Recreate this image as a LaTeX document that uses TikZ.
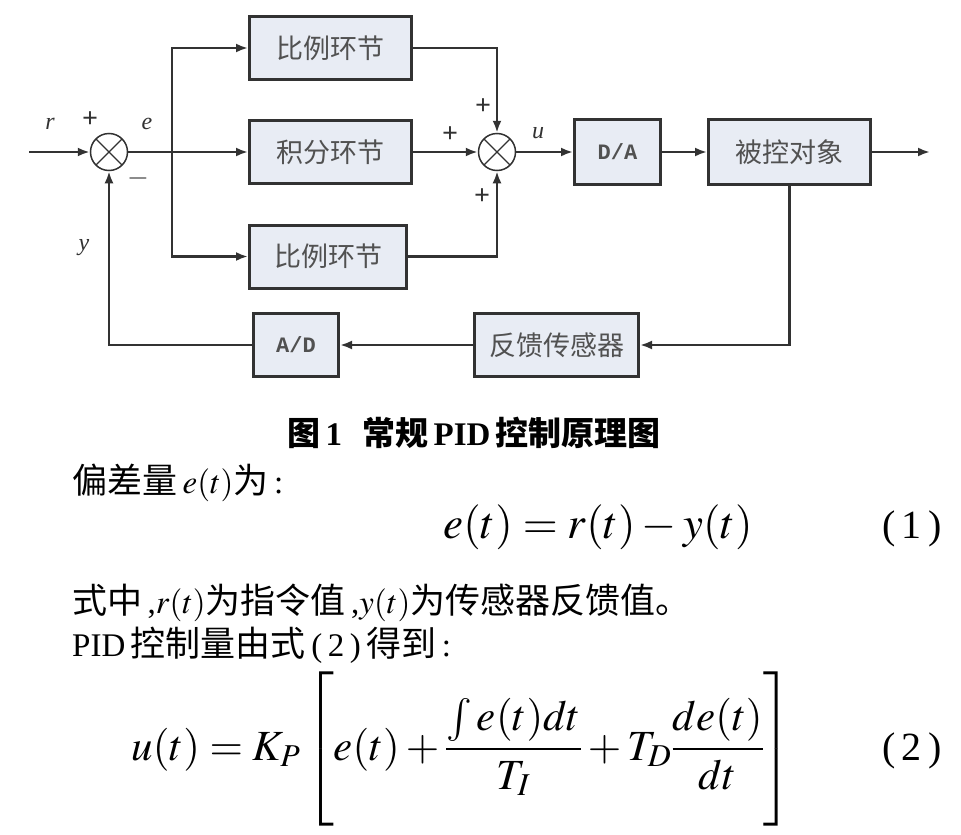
\documentclass[tikz,border=0pt]{standalone}
\usepackage{amsmath}
\usepackage{mathptmx}
\usepackage{fontspec}
\setmainfont{Liberation Serif}
\setmonofont{Liberation Mono}
\newfontfamily\cjk{Noto Sans CJK SC}
\usetikzlibrary{arrows.meta}
\definecolor{boxfill}{RGB}{232,236,244}
\definecolor{ink}{RGB}{50,50,50}
\newcommand\zh[1]{{\fontsize{35}{40}\cjk #1}}

\begin{document}
\begin{tikzpicture}[x=1pt, y=-1pt,
        >={Latex[length=12pt, width=9pt]},
        line/.style={draw=ink, line width=2.4pt},
        block/.style={draw=ink, line width=3pt, fill=boxfill, inner sep=0pt, minimum height=63pt, text=ink!85, font=\fontsize{27}{30}\cjk},
        conv/.style={block, font=\ttfamily\bfseries\fontsize{22}{24}\selectfont},
        sumnode/.style={circle, draw=ink, line width=1.5pt, fill=white, minimum size=37pt, inner sep=0pt,
            path picture={\draw[ink, line width=1.2pt] (path picture bounding box.north west) -- (path picture bounding box.south east)
                (path picture bounding box.north east) -- (path picture bounding box.south west);}},
        lbl/.style={text=ink, font=\itshape\fontsize{24}{26}\selectfont},
        sgn/.style={text=ink, font=\bfseries\fontsize{28}{30}\selectfont},
        body/.style={anchor=base west, inner sep=0pt, font=\fontsize{33}{38}\selectfont},
        eqn/.style={anchor=base, inner sep=0pt, font=\fontsize{45}{50}\selectfont}]
    \useasboundingbox (0,0) rectangle (961,835);
    \fill[white] (0,0) rectangle (961,835);

    \coordinate (in) at (29,152);
    \node[sumnode] (sa) at (109,152) {};
    \coordinate (br) at (172,152);
    \node[block, minimum width=162pt] (kp) at (330.5,48) {比例环节};
    \node[block, minimum width=162pt] (ki) at (330.5,152) {积分环节};
    \node[block, minimum width=157pt] (kd) at (328,256.5) {比例环节};
    \node[sumnode] (sb) at (497,152) {};
    \node[conv, minimum width=86pt, minimum height=65pt] (da) at (617.5,152) {D/A};
    \node[block, minimum width=162pt, minimum height=65pt] (plant) at (789.5,152) {被控对象};
    \coordinate (out) at (930,152);
    \node[block, minimum width=164pt] (sens) at (556.5,345) {反馈传感器};
    \node[conv, minimum width=85pt] (ad) at (296,345) {A/D};

    \draw[line,->] (in) -- (sa);
    \draw[line,->] (sa) -- (ki);
    \draw[line,->] (br) |- (kp);
    \draw[line,->] (br) |- (kd);
    \draw[line,->] (kp) -| (sb);
    \draw[line,->] (ki) -- (sb);
    \draw[line,->] (kd) -| (sb);
    \draw[line,->] (sb) -- (da);
    \draw[line,->] (da) -- (plant);
    \draw[line,->] (plant) -- (out);
    \draw[line,->] (plant) |- (sens);
    \draw[line,->] (sens) -- (ad);
    \draw[line,->] (ad) -| (sa);

    \node[lbl] (lr) at (50,124) {r};
    \node[sgn] (pa) at (90,120) {+};
    \node[lbl] (le) at (147,124) {e};
    \node[sgn] (ma) at (138,178) {$-$};
    \node[lbl] (ly) at (84,248) {y};
    \node[sgn] (pb1) at (483,107) {+};
    \node[sgn] (pb2) at (450,135) {+};
    \node[sgn] (pb3) at (482,197) {+};
    \node[lbl] (lu) at (538,133) {u};

    \node[font=\bfseries\fontsize{33}{38}\selectfont] (cap) at (474,433)
        {{\cjk 图}\,1\hspace{20pt}{\cjk 常规}\,PID\,{\cjk 控制原理图}};
    \node[body] (t1) at (72,493) {\zh{偏差量}\,$e(t)$\zh{为}\,:};
    \node[eqn] (eq1) at (598,538) {$e(t)=r(t)-y(t)$};
    \node[anchor=base, inner sep=0pt, font=\fontsize{40}{44}\selectfont] (n1) at (912,538) {(\,1\,)};
    \node[body] (t2) at (72,613) {\zh{式中}\,,$r(t)$\zh{为指令值}\,,$y(t)$\zh{为传感器反馈值。}};
    \node[body] (t3) at (72,656) {PID\,\zh{控制量由式}\,(\,2\,)\,\zh{得到}\,:};
    \node[eqn, font=\fontsize{43}{48}\selectfont] (eq2) at (462,760)
        {$u(t)=K_P\left[\rule[-64pt]{0pt}{150pt}e(t)+\dfrac{\int e(t)dt}{T_I}+T_D\dfrac{de(t)}{dt}\right]$};
    \node[anchor=base, inner sep=0pt, font=\fontsize{40}{44}\selectfont] (n2) at (912,760) {(\,2\,)};
\end{tikzpicture}
\end{document}
